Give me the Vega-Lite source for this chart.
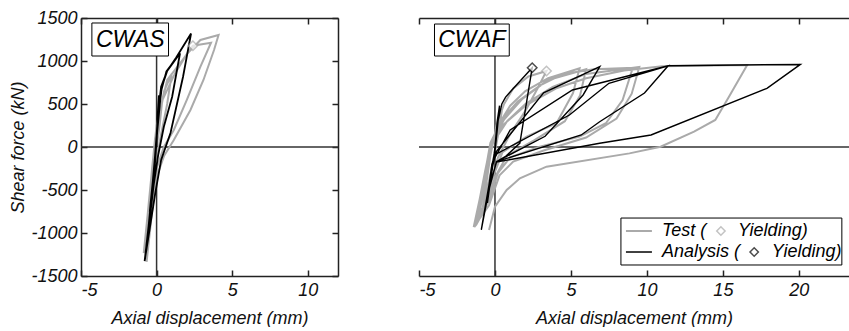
{
  "$schema": "https://vega.github.io/schema/vega-lite/v6.json",
  "padding": {"left": 9, "top": 9, "right": 0, "bottom": 0},
  "background": "white",
  "config": {
    "view": {"stroke": null},
    "font": "Liberation Sans",
    "axis": {
      "labelFont": "Liberation Sans", "labelFontStyle": "italic", "labelFontSize": 18, "labelColor": "#111",
      "titleFont": "Liberation Sans", "titleFontStyle": "italic", "titleFontWeight": "normal", "titleFontSize": 18, "titleColor": "#111",
      "domainColor": "#222", "domainWidth": 1.5, "tickColor": "#222", "tickWidth": 1.5, "tickSize": -6,
      "grid": false
    },
    "axisLeft": {"labelPadding": 10, "titlePadding": 3},
    "axisBottom": {"labelPadding": 11, "titlePadding": 10}
  },
  "datasets": {
    "one": [{}],
    "cwas_test": [
      {"i":0,"x":0,"y":0},{"i":1,"x":0.15,"y":250},{"i":2,"x":0.35,"y":500},{"i":3,"x":0.2,"y":250},{"i":4,"x":0,"y":0},
      {"i":5,"x":-0.25,"y":-300},{"i":6,"x":-0.45,"y":-600},{"i":7,"x":-0.3,"y":-350},{"i":8,"x":-0.15,"y":-50},
      {"i":9,"x":0.1,"y":300},{"i":10,"x":0.5,"y":650},{"i":11,"x":1.0,"y":850},{"i":12,"x":0.7,"y":500},{"i":13,"x":0.3,"y":150},
      {"i":14,"x":0,"y":-150},{"i":15,"x":-0.35,"y":-550},{"i":16,"x":-0.7,"y":-1000},{"i":17,"x":-0.5,"y":-650},{"i":18,"x":-0.3,"y":-250},
      {"i":19,"x":0.0,"y":250},{"i":20,"x":0.7,"y":779},{"i":21,"x":1.8,"y":1030},{"i":22,"x":2.4,"y":1178},{"i":23,"x":3.6,"y":1213},
      {"i":24,"x":2.9,"y":934},{"i":25,"x":2.0,"y":547},{"i":26,"x":1.14,"y":198},{"i":27,"x":0.48,"y":0},{"i":28,"x":0,"y":-250},
      {"i":29,"x":-0.4,"y":-700},{"i":30,"x":-0.85,"y":-1233},{"i":31,"x":-0.6,"y":-800},{"i":32,"x":-0.35,"y":-350},{"i":33,"x":-0.1,"y":100},
      {"i":34,"x":0.4,"y":550},{"i":35,"x":1.2,"y":850},{"i":36,"x":2.0,"y":1080},{"i":37,"x":2.9,"y":1244},{"i":38,"x":4.1,"y":1302},
      {"i":39,"x":3.8,"y":1128},{"i":40,"x":3.1,"y":779},{"i":41,"x":2.24,"y":430},{"i":42,"x":1.14,"y":81},{"i":43,"x":0.5,"y":-100},
      {"i":44,"x":0,"y":-350},{"i":45,"x":-0.3,"y":-750},{"i":46,"x":-0.66,"y":-1337}
    ],
    "cwas_ana": [
      {"i":0,"x":0,"y":0},{"i":1,"x":0.05,"y":300},{"i":2,"x":0.15,"y":600},{"i":3,"x":0.05,"y":250},{"i":4,"x":-0.1,"y":-100},
      {"i":5,"x":-0.3,"y":-500},{"i":6,"x":-0.45,"y":-750},{"i":7,"x":-0.25,"y":-400},{"i":8,"x":-0.05,"y":0},{"i":9,"x":0.1,"y":400},
      {"i":10,"x":0.3,"y":700},{"i":11,"x":0.7,"y":884},{"i":12,"x":1.55,"y":1090},{"i":13,"x":1.03,"y":585},{"i":14,"x":0.48,"y":236},
      {"i":15,"x":0.1,"y":-100},{"i":16,"x":-0.2,"y":-450},{"i":17,"x":-0.6,"y":-1050},{"i":18,"x":-0.35,"y":-600},{"i":19,"x":-0.1,"y":-150},
      {"i":20,"x":0.1,"y":350},{"i":21,"x":0.35,"y":700},{"i":22,"x":0.7,"y":884},{"i":23,"x":1.3,"y":1040},{"i":24,"x":2.28,"y":1320},
      {"i":25,"x":1.75,"y":817},{"i":26,"x":0.92,"y":163},{"i":27,"x":0.3,"y":-150},{"i":28,"x":-0.1,"y":-550},{"i":29,"x":-0.79,"y":-1326},
      {"i":30,"x":-0.45,"y":-800},{"i":31,"x":-0.15,"y":-300},{"i":32,"x":0.05,"y":200},{"i":33,"x":0.3,"y":650},{"i":34,"x":0.65,"y":880},
      {"i":35,"x":1.55,"y":1090}
    ],
    "cwaf_test": [
      {"i":0,"x":0,"y":0},{"i":1,"x":0.2,"y":250},{"i":2,"x":0.45,"y":420},{"i":3,"x":0.25,"y":180},{"i":4,"x":0,"y":-50},
      {"i":5,"x":-0.4,"y":-400},{"i":6,"x":-0.8,"y":-700},{"i":7,"x":-0.55,"y":-400},{"i":8,"x":-0.3,"y":-100},{"i":9,"x":0.1,"y":250},
      {"i":10,"x":0.6,"y":500},{"i":11,"x":1.2,"y":680},{"i":12,"x":2.2,"y":820},{"i":13,"x":3.39,"y":884},{"i":14,"x":2.8,"y":680},
      {"i":15,"x":2.0,"y":420},{"i":16,"x":1.0,"y":150},{"i":17,"x":0.2,"y":-120},{"i":18,"x":-0.4,"y":-500},{"i":19,"x":-1.1,"y":-850},
      {"i":20,"x":-0.8,"y":-550},{"i":21,"x":-0.4,"y":-150},{"i":22,"x":0.1,"y":220},{"i":23,"x":1.0,"y":480},{"i":24,"x":2.0,"y":650},
      {"i":25,"x":3.5,"y":800},{"i":26,"x":5.57,"y":915},{"i":27,"x":5.13,"y":624},{"i":28,"x":4.05,"y":276},{"i":29,"x":2.08,"y":120},
      {"i":30,"x":0.5,"y":-60},{"i":31,"x":-0.2,"y":-380},{"i":32,"x":-0.7,"y":-720},{"i":33,"x":-1.35,"y":-930},
      {"i":33.1,"x":-0.95,"y":-600},{"i":33.2,"x":-0.6,"y":-280},{"i":33.3,"x":-0.25,"y":30},{"i":33.4,"x":0.6,"y":320},{"i":33.5,"x":1.8,"y":560},
      {"i":33.6,"x":3.5,"y":780},{"i":33.7,"x":6.0,"y":905},{"i":33.8,"x":5.6,"y":600},{"i":33.9,"x":4.6,"y":300},{"i":33.91,"x":2.6,"y":80},
      {"i":33.92,"x":0.8,"y":-100},{"i":33.93,"x":0,"y":-350},{"i":33.94,"x":-0.6,"y":-700},{"i":33.95,"x":-1.25,"y":-910},
      {"i":34,"x":-1.0,"y":-600},
      {"i":35,"x":-0.6,"y":-250},{"i":36,"x":-0.3,"y":50},{"i":37,"x":0.5,"y":330},{"i":38,"x":1.5,"y":530},{"i":39,"x":3.0,"y":720},
      {"i":40,"x":4.5,"y":850},{"i":41,"x":6.5,"y":905},{"i":42,"x":9.07,"y":920},{"i":43,"x":8.4,"y":547},{"i":44,"x":7.3,"y":276},
      {"i":45,"x":5.57,"y":120},{"i":46,"x":2.95,"y":3},{"i":47,"x":1.0,"y":-120},{"i":48,"x":0.2,"y":-300},{"i":49,"x":-0.4,"y":-620},
      {"i":50,"x":-1.3,"y":-920},{"i":51,"x":-0.95,"y":-600},{"i":52,"x":-0.6,"y":-280},{"i":53,"x":-0.2,"y":30},{"i":54,"x":0.8,"y":300},
      {"i":55,"x":2.0,"y":500},{"i":56,"x":3.8,"y":700},{"i":57,"x":6.0,"y":850},{"i":58,"x":9.5,"y":930},{"i":59,"x":9.0,"y":620},
      {"i":60,"x":8.0,"y":330},{"i":61,"x":6.0,"y":110},{"i":62,"x":3.2,"y":-40},{"i":63,"x":1.2,"y":-170},{"i":64,"x":0.3,"y":-330},
      {"i":65,"x":-0.4,"y":-680},{"i":66,"x":-1.4,"y":-930},{"i":67,"x":-1.0,"y":-600},{"i":68,"x":-0.65,"y":-280},{"i":69,"x":-0.3,"y":20},
      {"i":70,"x":0.5,"y":250},{"i":71,"x":2.0,"y":480},{"i":72,"x":4.0,"y":680},{"i":73,"x":6.0,"y":800},{"i":74,"x":8.5,"y":890},
      {"i":75,"x":11.0,"y":940},{"i":76,"x":16.6,"y":954},{"i":77,"x":15.4,"y":585},{"i":78,"x":14.5,"y":314},{"i":79,"x":13.1,"y":178},
      {"i":80,"x":10.9,"y":3},{"i":81,"x":8.85,"y":-74},{"i":82,"x":3.39,"y":-229},{"i":83,"x":1.64,"y":-364},{"i":84,"x":0.77,"y":-500},
      {"i":85,"x":0,"y":-694},{"i":86,"x":-0.39,"y":-965}
    ],
    "cwaf_ana": [
      {"i":0,"x":0,"y":0},{"i":1,"x":0.15,"y":300},{"i":2,"x":0.3,"y":480},{"i":3,"x":0.15,"y":200},{"i":4,"x":0,"y":-50},
      {"i":5,"x":-0.3,"y":-400},{"i":6,"x":-0.5,"y":-650},{"i":7,"x":-0.3,"y":-350},{"i":8,"x":-0.05,"y":-80},{"i":9,"x":0.2,"y":300},
      {"i":10,"x":0.45,"y":500},{"i":11,"x":0.7,"y":580},{"i":12,"x":1.1,"y":660},{"i":13,"x":2.45,"y":922},{"i":14,"x":1.64,"y":46},
      {"i":15,"x":0.7,"y":-110},{"i":16,"x":0.1,"y":-170},{"i":17,"x":-0.4,"y":-500},{"i":18,"x":-0.9,"y":-965},{"i":19,"x":-0.55,"y":-600},
      {"i":20,"x":-0.2,"y":-250},{"i":21,"x":0.1,"y":-50},{"i":22,"x":3.2,"y":630},{"i":23,"x":6.9,"y":934},{"i":24,"x":5.8,"y":605},
      {"i":25,"x":3.3,"y":125},{"i":26,"x":0.1,"y":-170},{"i":27,"x":-0.45,"y":-520},{"i":28,"x":-0.9,"y":-960},{"i":29,"x":-0.5,"y":-580},
      {"i":30,"x":-0.2,"y":-200},{"i":31,"x":0.1,"y":-80},{"i":32,"x":4.9,"y":372},{"i":33,"x":7.5,"y":741},{"i":34,"x":11.4,"y":945},
      {"i":35,"x":9.84,"y":628},{"i":36,"x":6.89,"y":294},{"i":37,"x":5.68,"y":140},{"i":38,"x":0.1,"y":-170},{"i":39,"x":-0.45,"y":-520},
      {"i":40,"x":-0.9,"y":-960},{"i":41,"x":-0.5,"y":-580},{"i":42,"x":-0.15,"y":-170},{"i":43,"x":1.0,"y":198},{"i":44,"x":5.1,"y":663},
      {"i":45,"x":11.4,"y":945},{"i":46,"x":20.1,"y":960},{"i":47,"x":17.9,"y":682},{"i":48,"x":10.27,"y":140},{"i":49,"x":6.89,"y":43},
      {"i":50,"x":0.1,"y":-175},{"i":51,"x":-0.45,"y":-520},{"i":52,"x":-0.9,"y":-965}
    ],
    "yields": [
      {"panel":"CWAS","series":"Test","x":2.4,"y":1178},
      {"panel":"CWAF","series":"Test","x":3.39,"y":884},
      {"panel":"CWAF","series":"Analysis","x":2.45,"y":922}
    ]
  },
  "bounds": "flush",
  "spacing": 81,
  "hconcat": [
    {
      "width": 257,
      "height": 258,
      "layer": [
        {
          "data": {"name": "one"},
          "mark": {"type": "rule", "color": "#333", "strokeWidth": 1.5},
          "encoding": {
            "x": {"datum": 0, "type": "quantitative", "scale": {"domain": [-5, 12], "nice": false, "zero": false},
                  "axis": {"orient": "top", "labels": false, "title": null, "values": [-5, 0, 5, 10]}}
          }
        },
        {
          "data": {"name": "one"},
          "mark": {"type": "rule", "color": "#333", "strokeWidth": 1.5},
          "encoding": {
            "y": {"datum": 0, "type": "quantitative", "scale": {"domain": [-1500, 1500], "nice": false},
                  "axis": {"orient": "right", "labels": false, "title": null, "values": [-1500, -1000, -500, 0, 500, 1000, 1500]}}
          }
        },
        {
          "data": {"name": "cwas_test"},
          "mark": {"type": "line", "color": "#aaaaaa", "strokeWidth": 2},
          "encoding": {
            "x": {"field": "x", "type": "quantitative", "scale": {"domain": [-5, 12], "nice": false, "zero": false},
                  "axis": {"orient": "bottom", "title": "Axial displacement (mm)", "values": [-5, 0, 5, 10], "labelExpr": "'' + datum.value", "labelFontStyle": "italic"}},
            "y": {"field": "y", "type": "quantitative", "scale": {"domain": [-1500, 1500], "nice": false},
                  "axis": {"orient": "left", "title": "Shear force (kN)", "values": [-1500, -1000, -500, 0, 500, 1000, 1500], "labelExpr": "'' + datum.value", "labelFontStyle": "italic"}},
            "order": {"field": "i"}
          }
        },
        {
          "data": {"name": "cwas_ana"},
          "mark": {"type": "line", "color": "#000000", "strokeWidth": 1.8},
          "encoding": {
            "x": {"field": "x", "type": "quantitative", "axis": null},
            "y": {"field": "y", "type": "quantitative", "axis": null},
            "order": {"field": "i"}
          }
        },
        {
          "data": {"name": "yields"},
          "transform": [{"filter": "datum.panel === 'CWAS'"}],
          "mark": {"type": "point", "shape": "diamond", "filled": true, "fill": "white", "size": 90, "strokeWidth": 1.5},
          "encoding": {
            "x": {"field": "x", "type": "quantitative", "axis": null},
            "y": {"field": "y", "type": "quantitative", "axis": null},
            "stroke": {"field": "series", "type": "nominal", "scale": {"domain": ["Test", "Analysis"], "range": ["#aaaaaa", "#000000"]}, "legend": null}
          }
        },
        {
          "data": {"name": "one"},
          "mark": {"type": "rect", "fill": "white", "stroke": "#000", "strokeWidth": 1},
          "encoding": {
            "x": {"datum": -4.28, "type": "quantitative", "axis": null},
            "x2": {"datum": 0.79},
            "y": {"datum": 1442, "type": "quantitative", "axis": null},
            "y2": {"datum": 1058}
          }
        },
        {
          "data": {"name": "one"},
          "mark": {"type": "text", "text": "CWAS", "font": "Liberation Sans", "fontStyle": "italic", "fontSize": 23, "align": "center", "baseline": "middle", "color": "#000"},
          "encoding": {
            "x": {"datum": -1.74, "type": "quantitative", "axis": null},
            "y": {"datum": 1250, "type": "quantitative", "axis": null}
          }
        }
      ]
    },
    {
      "width": 430,
      "height": 258,
      "layer": [
        {
          "data": {"name": "one"},
          "mark": {"type": "rule", "color": "#333", "strokeWidth": 1.5},
          "encoding": {
            "x": {"datum": 0, "type": "quantitative", "scale": {"domain": [-5, 23.3], "nice": false, "zero": false},
                  "axis": {"orient": "top", "labels": false, "title": null, "values": [-5, 0, 5, 10, 15, 20]}}
          }
        },
        {
          "data": {"name": "one"},
          "mark": {"type": "rule", "color": "#333", "strokeWidth": 1.5},
          "encoding": {
            "y": {"datum": 0, "type": "quantitative", "scale": {"domain": [-1500, 1500], "nice": false}, "axis": null}
          }
        },
        {
          "data": {"name": "cwaf_test"},
          "mark": {"type": "line", "color": "#aaaaaa", "strokeWidth": 2},
          "encoding": {
            "x": {"field": "x", "type": "quantitative", "scale": {"domain": [-5, 23.3], "nice": false, "zero": false},
                  "axis": {"orient": "bottom", "title": "Axial displacement (mm)", "values": [-5, 0, 5, 10, 15, 20], "labelExpr": "'' + datum.value", "labelFontStyle": "italic"}},
            "y": {"field": "y", "type": "quantitative", "scale": {"domain": [-1500, 1500], "nice": false},
                  "axis": {"orient": "left", "title": "Shear force (kN)", "values": [-1500, -1000, -500, 0, 500, 1000, 1500], "labelExpr": "'' + datum.value", "labelFontStyle": "italic"}},
            "order": {"field": "i"}
          }
        },
        {
          "data": {"name": "cwaf_ana"},
          "mark": {"type": "line", "color": "#000000", "strokeWidth": 1.4},
          "encoding": {
            "x": {"field": "x", "type": "quantitative", "axis": null},
            "y": {"field": "y", "type": "quantitative", "axis": null},
            "order": {"field": "i"}
          }
        },
        {
          "data": {"name": "yields"},
          "transform": [{"filter": "datum.panel === 'CWAF'"}],
          "mark": {"type": "point", "shape": "diamond", "filled": true, "fill": "white", "size": 90, "strokeWidth": 1.5},
          "encoding": {
            "x": {"field": "x", "type": "quantitative", "axis": null},
            "y": {"field": "y", "type": "quantitative", "axis": null},
            "stroke": {"field": "series", "type": "nominal", "scale": {"domain": ["Test", "Analysis"], "range": ["#aaaaaa", "#000000"]}, "legend": null}
          }
        },
        {
          "data": {"name": "one"},
          "mark": {"type": "rect", "fill": "white", "stroke": "#000", "strokeWidth": 1},
          "encoding": {
            "x": {"datum": -3.98, "type": "quantitative", "axis": null},
            "x2": {"datum": 0.94},
            "y": {"datum": 1430, "type": "quantitative", "axis": null},
            "y2": {"datum": 1058}
          }
        },
        {
          "data": {"name": "one"},
          "mark": {"type": "text", "text": "CWAF", "font": "Liberation Sans", "fontStyle": "italic", "fontSize": 23, "align": "center", "baseline": "middle", "color": "#000"},
          "encoding": {
            "x": {"datum": -1.52, "type": "quantitative", "axis": null},
            "y": {"datum": 1244, "type": "quantitative", "axis": null}
          }
        },
        {
          "data": {"name": "one"},
          "mark": {"type": "rect", "fill": "white", "stroke": "#000", "strokeWidth": 1},
          "encoding": {
            "x": {"datum": 8.29, "type": "quantitative", "axis": null},
            "x2": {"datum": 22.83},
            "y": {"datum": -826, "type": "quantitative", "axis": null},
            "y2": {"datum": -1372}
          }
        },
        {
          "data": {"name": "one"},
          "mark": {"type": "rule", "color": "#aaaaaa", "strokeWidth": 2},
          "encoding": {
            "x": {"datum": 8.62, "type": "quantitative", "axis": null},
            "x2": {"datum": 10.33},
            "y": {"datum": -977, "type": "quantitative", "axis": null}
          }
        },
        {
          "data": {"name": "one"},
          "mark": {"type": "rule", "color": "#000000", "strokeWidth": 1.5},
          "encoding": {
            "x": {"datum": 8.62, "type": "quantitative", "axis": null},
            "x2": {"datum": 10.33},
            "y": {"datum": -1221, "type": "quantitative", "axis": null}
          }
        },
        {
          "data": {"name": "one"},
          "mark": {"type": "text", "text": "Test (", "font": "Liberation Sans", "fontStyle": "italic", "fontSize": 18, "align": "left", "baseline": "middle", "color": "#000"},
          "encoding": {
            "x": {"datum": 10.99, "type": "quantitative", "axis": null},
            "y": {"datum": -977, "type": "quantitative", "axis": null}
          }
        },
        {
          "data": {"name": "one"},
          "mark": {"type": "text", "text": "Yielding)", "font": "Liberation Sans", "fontStyle": "italic", "fontSize": 18, "align": "left", "baseline": "middle", "color": "#000"},
          "encoding": {
            "x": {"datum": 15.99, "type": "quantitative", "axis": null},
            "y": {"datum": -977, "type": "quantitative", "axis": null}
          }
        },
        {
          "data": {"name": "one"},
          "mark": {"type": "text", "text": "Analysis (", "font": "Liberation Sans", "fontStyle": "italic", "fontSize": 18, "align": "left", "baseline": "middle", "color": "#000"},
          "encoding": {
            "x": {"datum": 10.99, "type": "quantitative", "axis": null},
            "y": {"datum": -1221, "type": "quantitative", "axis": null}
          }
        },
        {
          "data": {"name": "one"},
          "mark": {"type": "text", "text": "Yielding)", "font": "Liberation Sans", "fontStyle": "italic", "fontSize": 18, "align": "left", "baseline": "middle", "color": "#000"},
          "encoding": {
            "x": {"datum": 18.22, "type": "quantitative", "axis": null},
            "y": {"datum": -1221, "type": "quantitative", "axis": null}
          }
        },
        {
          "data": {"name": "one"},
          "mark": {"type": "point", "shape": "diamond", "filled": true, "fill": "white", "stroke": "#aaaaaa", "size": 70, "strokeWidth": 1.5},
          "encoding": {
            "x": {"datum": 14.87, "type": "quantitative", "axis": null},
            "y": {"datum": -977, "type": "quantitative", "axis": null}
          }
        },
        {
          "data": {"name": "one"},
          "mark": {"type": "point", "shape": "diamond", "filled": true, "fill": "white", "stroke": "#000000", "size": 70, "strokeWidth": 1.5},
          "encoding": {
            "x": {"datum": 17.06, "type": "quantitative", "axis": null},
            "y": {"datum": -1221, "type": "quantitative", "axis": null}
          }
        }
      ]
    }
  ]
}
